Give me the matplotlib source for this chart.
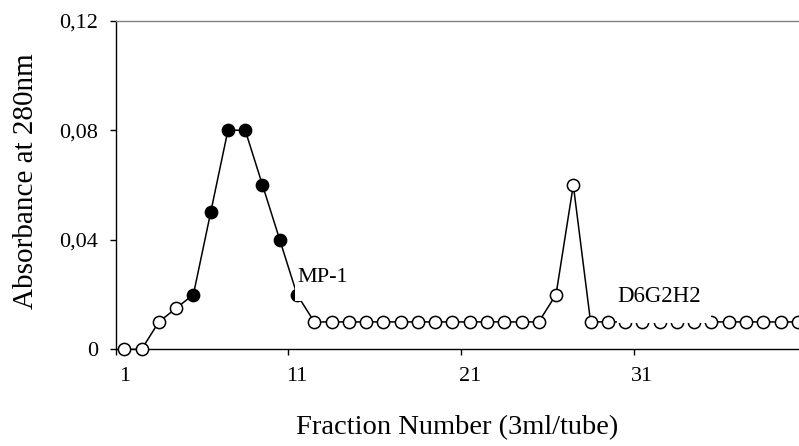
import numpy as np
import matplotlib
matplotlib.use("Agg")
import matplotlib.pyplot as plt
from matplotlib.patches import Rectangle
from matplotlib.ticker import FixedLocator, NullFormatter

plt.rcParams['font.family'] = ['Liberation Serif', 'DejaVu Serif']

# fraction numbers and absorbance readings
fractions = np.arange(1, 41)
absorbance = [0, 0, 0.01, 0.015, 0.02, 0.05, 0.08, 0.08, 0.06, 0.04,
              0.02, 0.01, 0.01, 0.01, 0.01, 0.01, 0.01, 0.01, 0.01, 0.01,
              0.01, 0.01, 0.01, 0.01, 0.01, 0.02, 0.06, 0.01, 0.01, 0.01,
              0.01, 0.01, 0.01, 0.01, 0.01, 0.01, 0.01, 0.01, 0.01, 0.01]
absorbance = np.array(absorbance)
# fractions pooled as MP-1 (filled markers)
mp1_first, mp1_last = 5, 11

yticks = [0, 0.04, 0.08, 0.12]
ytick_labels = ['0', '0,04', '0,08', '0,12']
xtick_labels = ['1', '11', '21', '31']

fig = plt.figure(figsize=(7.99, 4.46), dpi=100)
ax = fig.add_axes([115.7 / 799, 1 - 349.3 / 446, (799 - 115.7) / 799, (349.3 - 20.7) / 446])

filled = (fractions >= mp1_first) & (fractions <= mp1_last)
ax.plot(fractions, absorbance, color='black', lw=1.1, zorder=2, clip_on=False)
ax.plot(fractions[~filled], absorbance[~filled], 'o', ms=8.8, mfc='white', mec='black',
        mew=1.1, zorder=3, clip_on=False)
ax.plot(fractions[filled], absorbance[filled], 'o', ms=8.8, mfc='black', mec='black',
        mew=1.1, zorder=3, clip_on=False)

# data labels with white boxes, as in the original
ax.add_patch(Rectangle((10.88, 0.0178), 3.2, 0.015, facecolor='white', edgecolor='none', zorder=4))
ax.text(11.0, 0.0246, 'MP-1', fontsize=16, ha='left', va='baseline', zorder=5)
ax.add_patch(Rectangle((29.53, 0.0097), 5.47, 0.016, facecolor='white', edgecolor='none', zorder=4))
ax.text(29.53, 0.0173, 'D6G2H2', fontsize=16.5, ha='left', va='baseline', zorder=5)

ax.set_xlim(0.5, 40.07)
ax.set_ylim(0, 0.12)

ax.set_yticks(yticks)
ax.set_yticklabels(ytick_labels)
ax.xaxis.set_major_locator(FixedLocator([0.5, 10.5, 20.5, 30.5]))
ax.xaxis.set_major_formatter(NullFormatter())
ax.xaxis.set_minor_locator(FixedLocator([1, 11, 21, 31]))
ax.set_xticklabels(xtick_labels, minor=True)
ax.tick_params(axis='x', which='major', direction='out', length=4, width=1, color='black')
ax.tick_params(axis='x', which='minor', length=0, pad=12.5, labelsize=16)
ax.tick_params(axis='y', direction='out', length=4, width=1, pad=8.5, labelsize=16)

ax.spines['right'].set_visible(False)
ax.spines['top'].set_color('#808080')
ax.spines['top'].set_linewidth(1.0)
ax.spines['left'].set_linewidth(1.0)
ax.spines['bottom'].set_linewidth(1.0)

ax.set_xlabel('Fraction Number (3ml/tube)', fontsize=20.5)
ax.xaxis.set_label_coords(0.5, -0.201)
ax.set_ylabel('Absorbance at 280nm', fontsize=21)
ax.yaxis.set_label_coords(-0.112, 0.511)

fig.savefig('out.png', dpi=100)
